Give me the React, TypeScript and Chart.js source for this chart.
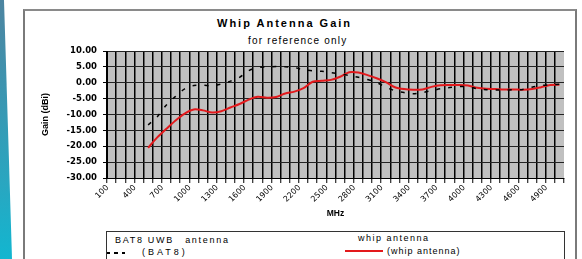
import React, { useEffect, useRef } from 'react';
import { Chart, registerables } from 'chart.js';

Chart.register(...registerables);

// ---- data ----
const categories = [
  '100', '200', '300', '400', '500', '600', '700', '800', '900', '1000',
  '1100', '1200', '1300', '1400', '1500', '1600', '1700', '1800', '1900', '2000',
  '2100', '2200', '2300', '2400', '2500', '2600', '2700', '2800', '2900', '3000',
  '3100', '3200', '3300', '3400', '3500', '3600', '3700', '3800', '3900', '4000',
  '4100', '4200', '4300', '4400', '4500', '4600', '4700', '4800', '4900', '5000',
];

const bat8Gain = [
  null, null, null, null, -13.3, -10.7, -7.0, -4.3, -1.9, -0.9,
  -0.8, -1.0, -0.4, 0.5, 1.7, 3.8, 4.8, 5.0, 5.1, 5.0,
  4.8, 4.1, 3.8, 3.6, 3.2, 2.8, 2.3, 1.7, 1.0, 0.1,
  -1.4, -2.5, -3.1, -3.5, -3.1, -2.5, -1.9, -1.5, -1.2, -1.2,
  -1.9, -2.2, -2.3, -2.3, -2.2, -2.1, -1.4, -0.9, -0.6, -0.5,
];

const whipGain = [
  null, null, null, null, -20.5, -17.2, -14.5, -11.9, -9.7, -8.4,
  -8.7, -9.4, -9.0, -7.8, -6.7, -5.3, -4.4, -4.7, -4.5, -3.4,
  -2.8, -1.7, 0.3, 0.6, 0.9, 1.9, 3.3, 3.2, 2.4, 1.4,
  0.2, -1.4, -2.0, -2.2, -2.1, -1.3, -0.8, -0.7, -0.7, -0.9,
  -1.6, -1.9, -2.0, -2.1, -2.1, -2.2, -2.0, -1.4, -0.7, -0.6,
];

const yMin = -30;
const yMax = 10;
const yStep = 5;

const titleText = 'Whip Antenna Gain';
const subtitleText = 'for reference only';
const yTitle = 'Gain (dBi)';
const xTitle = 'MHz';
const legendLeftTitle = ['BAT8 UWB', 'antenna'];
const legendLeftItem = '(BAT8)';
const legendRightTitle = 'whip antenna';
const legendRightItem = '(whip antenna)';

const plotBackground = {
  id: 'plotBackground',
  beforeDraw(chart: any) {
    const { ctx, chartArea } = chart;
    ctx.save();
    ctx.fillStyle = '#c0c0c0';
    ctx.fillRect(chartArea.left, chartArea.top, chartArea.width, chartArea.height);
    ctx.restore();
  },
};

const sans = '"Liberation Sans", Arial, sans-serif';

export default function App() {
  const canvasRef = useRef<HTMLCanvasElement | null>(null);

  useEffect(() => {
    if (!canvasRef.current) return;
    const chart = new Chart(canvasRef.current, {
      type: 'line',
      data: {
        labels: categories,
        datasets: [
          {
            label: 'BAT8',
            data: bat8Gain,
            borderColor: '#000000',
            borderWidth: 1.5,
            borderDash: [4, 8],
            pointRadius: 0,
            tension: 0.3,
            fill: false,
          },
          {
            label: 'whip antenna',
            data: whipGain,
            borderColor: '#e3191c',
            borderWidth: 2,
            pointRadius: 0,
            tension: 0.3,
            fill: false,
          },
        ],
      },
      options: {
        animation: false,
        responsive: false,
        events: [],
        layout: { padding: { top: 51, left: 0, right: 18, bottom: 37 } },
        plugins: {
          legend: { display: false },
          tooltip: { enabled: false },
          title: { display: false },
        },
        scales: {
          x: {
            offset: true,
            grid: {
              offset: true,
              color: (c: any) => (c.type === 'tick' ? '#000000' : 'rgba(0,0,0,0)'),
              lineWidth: 1.5,
              drawTicks: true,
              tickLength: 5,
              tickColor: '#000000',
              tickWidth: 1,
            },
            border: { display: true, color: '#000000', width: 1 },
            ticks: {
              autoSkip: false,
              maxRotation: 45,
              minRotation: 45,
              padding: 0,
              labelOffset: -4,
              color: '#000000',
              font: { family: '"DejaVu Sans"', size: 8 },
              callback: (_v: any, i: number) => (i % 3 === 0 ? categories[i] : ''),
            },
            title: {
              display: true,
              text: xTitle,
              color: '#000000',
              font: { family: sans, size: 8.5, weight: 'bold' },
              padding: { top: 0, bottom: 3 },
            },
            afterFit: (s: any) => {
              s.height = 44;
            },
          },
          y: {
            min: yMin,
            max: yMax,
            ticks: {
              stepSize: yStep,
              padding: 6,
              color: '#000000',
              font: { family: '"DejaVu Sans"', size: 8.5, weight: 'bold' },
              callback: (v: any) => Number(v).toFixed(2),
            },
            grid: {
              color: '#222222',
              lineWidth: 1,
              tickLength: 4,
              tickColor: '#000000',
            },
            border: { display: true, color: '#000000', width: 1 },
            title: {
              display: true,
              text: yTitle,
              color: '#000000',
              font: { family: sans, size: 9, weight: 'bold' },
              padding: { top: 40, bottom: 0 },
            },
            afterFit: (s: any) => {
              s.width = 107;
            },
          },
        },
      } as any,
      plugins: [plotBackground],
    });
    return () => chart.destroy();
  }, []);

  return (
    <div
      style={{
        position: 'absolute',
        left: 0,
        top: 0,
        width: 582,
        height: 259,
        background: '#ffffff',
        overflow: 'hidden',
        fontFamily: sans,
        color: '#000',
      }}
    >
      <div
        style={{
          position: 'absolute',
          left: 0,
          top: 0,
          width: 14,
          height: 259,
          background: 'linear-gradient(to bottom, #4d84a0, #2aa6c0 70%, #12b6d0)',
          clipPath: 'polygon(0 0, 4px 0, 12px 100%, 0 100%)',
        }}
      />
      <div
        style={{
          position: 'absolute',
          left: 23,
          top: 9,
          width: 550,
          height: 270,
          borderLeft: '2px solid #7a7a7a',
          borderTop: '2px solid #8a8a8a',
          borderRight: '2px solid #7a7a7a',
        }}
      />
      <div
        style={{
          position: 'absolute',
          left: 217,
          top: 17,
          fontSize: 11,
          lineHeight: '13px',
          fontWeight: 'bold',
          letterSpacing: '2px',
          whiteSpace: 'nowrap',
        }}
      >
        {titleText}
      </div>
      <div
        style={{
          position: 'absolute',
          left: 248,
          top: 35,
          fontSize: 10,
          lineHeight: '12px',
          letterSpacing: '1.2px',
          whiteSpace: 'nowrap',
        }}
      >
        {subtitleText}
      </div>
      <canvas
        ref={canvasRef}
        width={582}
        height={259}
        style={{ position: 'absolute', left: 0, top: 0, width: 582, height: 259 }}
      />
      <div
        style={{
          position: 'absolute',
          left: 106,
          top: 231,
          width: 457,
          height: 40,
          border: '1px solid #333333',
          background: '#ffffff',
        }}
      />
      <div
        style={{
          position: 'absolute',
          left: 115,
          top: 234,
          fontSize: 9,
          lineHeight: '12px',
          letterSpacing: '1.7px',
          whiteSpace: 'nowrap',
        }}
      >
        {legendLeftTitle[0]}
        <span style={{ marginLeft: 7 }}> {legendLeftTitle[1]}</span>
      </div>
      <div
        style={{
          position: 'absolute',
          left: 107,
          top: 252,
          width: 18,
          height: 1.5,
          background: 'repeating-linear-gradient(to right, #000 0 3.5px, transparent 3.5px 7.3px)',
        }}
      />
      <div
        style={{
          position: 'absolute',
          left: 142,
          top: 246,
          fontSize: 9,
          lineHeight: '12px',
          letterSpacing: '3px',
          whiteSpace: 'nowrap',
        }}
      >
        {legendLeftItem}
      </div>
      <div
        style={{
          position: 'absolute',
          left: 358,
          top: 232,
          fontSize: 9,
          lineHeight: '12px',
          letterSpacing: '1.5px',
          whiteSpace: 'nowrap',
        }}
      >
        {legendRightTitle}
      </div>
      <div
        style={{
          position: 'absolute',
          left: 345,
          top: 250,
          width: 38,
          height: 2,
          background: '#e3191c',
        }}
      />
      <div
        style={{
          position: 'absolute',
          left: 387,
          top: 245,
          fontSize: 9,
          lineHeight: '12px',
          letterSpacing: '1px',
          whiteSpace: 'nowrap',
        }}
      >
        {legendRightItem}
      </div>
    </div>
  );
}
